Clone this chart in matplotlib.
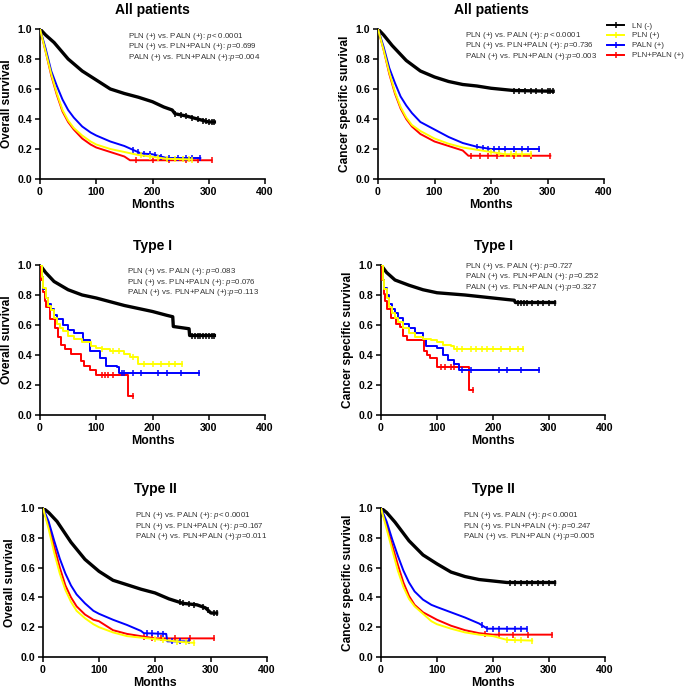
import numpy as np
import matplotlib
matplotlib.use("Agg")
import matplotlib.pyplot as plt
from matplotlib.lines import Line2D

plt.rcParams['font.family'] = ['Liberation Sans', 'DejaVu Sans']
plt.rcParams['mathtext.fontset'] = 'custom'
plt.rcParams['mathtext.it'] = 'Liberation Sans:italic'
plt.rcParams['mathtext.rm'] = 'Liberation Sans'

group_labels = ["LN (-)", "PLN (+)", "PALN (+)", "PLN+PALN (+)"]
group_colors = ["#000000", "#FFFF00", "#0000FF", "#FF0000"]

panel_titles = ["All patients", "All patients", "Type I", "Type I", "Type II", "Type II"]
panel_ylabels = ["Overall survival", "Cancer specific survival"] * 3
x_ticks = [0, 100, 200, 300, 400]
y_ticks = [0.0, 0.2, 0.4, 0.6, 0.8, 1.0]

# ---------------- All patients, overall survival ----------------
os_all_ln_t = [0, 10, 25, 50, 75, 100, 125, 150, 175, 200, 220, 235, 240, 260, 280, 300, 310]
os_all_ln_s = [1.0, 0.96, 0.91, 0.80, 0.72, 0.66, 0.60, 0.57, 0.545, 0.515, 0.48, 0.46, 0.435, 0.42, 0.40, 0.38, 0.38]
os_all_pln_t = [0, 10, 20, 30, 40, 50, 60, 75, 90, 100, 125, 150, 175, 225, 270]
os_all_pln_s = [1.0, 0.85, 0.70, 0.57, 0.46, 0.39, 0.34, 0.29, 0.25, 0.23, 0.20, 0.18, 0.16, 0.135, 0.13]
os_all_paln_t = [0, 10, 20, 30, 40, 50, 60, 75, 90, 100, 125, 150, 180, 200, 225, 285]
os_all_paln_s = [1.0, 0.87, 0.72, 0.62, 0.53, 0.46, 0.41, 0.35, 0.31, 0.29, 0.25, 0.22, 0.17, 0.165, 0.14, 0.14]
os_all_both_t = [0, 10, 20, 30, 40, 50, 60, 75, 90, 100, 125, 150, 160, 305]
os_all_both_s = [1.0, 0.85, 0.69, 0.56, 0.45, 0.38, 0.33, 0.27, 0.23, 0.21, 0.18, 0.15, 0.125, 0.125]
os_all_ln_c = [240, 250, 260, 270, 280, 290, 295, 300, 305, 310]
os_all_pln_c = [180, 195, 210, 225, 240, 255, 265, 270]
os_all_paln_c = [165, 175, 185, 195, 205, 215, 230, 245, 260, 270, 285]
os_all_both_c = [170, 200, 230, 260, 280, 305]

# ---------------- All patients, cancer specific survival ----------------
css_all_ln_t = [0, 10, 25, 50, 75, 100, 125, 150, 175, 200, 240, 310]
css_all_ln_s = [1.0, 0.96, 0.89, 0.79, 0.72, 0.68, 0.65, 0.63, 0.62, 0.605, 0.59, 0.585]
css_all_pln_t = [0, 10, 20, 30, 40, 50, 60, 75, 90, 100, 125, 150, 175, 225, 270]
css_all_pln_s = [1.0, 0.86, 0.71, 0.58, 0.48, 0.41, 0.36, 0.32, 0.29, 0.27, 0.235, 0.21, 0.195, 0.165, 0.165]
css_all_paln_t = [0, 10, 20, 30, 40, 50, 60, 75, 90, 100, 125, 150, 175, 200, 285]
css_all_paln_s = [1.0, 0.88, 0.74, 0.64, 0.55, 0.49, 0.44, 0.38, 0.35, 0.33, 0.28, 0.24, 0.215, 0.20, 0.20]
css_all_both_t = [0, 10, 20, 30, 40, 50, 60, 75, 90, 100, 125, 150, 160, 305]
css_all_both_s = [1.0, 0.86, 0.70, 0.57, 0.47, 0.40, 0.35, 0.30, 0.27, 0.25, 0.22, 0.19, 0.155, 0.155]
css_all_ln_c = [240, 250, 260, 270, 280, 290, 300, 305, 310]
css_all_pln_c = [200, 215, 225, 235, 245, 255, 270]
css_all_paln_c = [175, 185, 195, 205, 215, 225, 240, 255, 265, 285]
css_all_both_c = [165, 180, 195, 210, 240, 270, 305]

# ---------------- Type I, overall survival ----------------
os_t1_ln_t = [0, 10, 25, 50, 75, 100, 125, 150, 175, 200, 225, 236, 237, 265, 266, 310]
os_t1_ln_s = [1.0, 0.95, 0.89, 0.835, 0.80, 0.78, 0.755, 0.73, 0.71, 0.69, 0.665, 0.655, 0.59, 0.575, 0.53, 0.53]
os_t1_pln_t = [0, 3, 6, 10, 15, 20, 25, 30, 35, 40, 50, 60, 75, 90, 100, 110, 125, 150, 160, 175, 253]
os_t1_pln_s = [1.0, 0.92, 0.85, 0.78, 0.73, 0.70, 0.65, 0.61, 0.58, 0.56, 0.53, 0.51, 0.49, 0.46, 0.45, 0.44, 0.43, 0.41, 0.39, 0.34, 0.34]
os_t1_paln_t = [0, 3, 6, 10, 15, 20, 25, 30, 40, 50, 60, 76, 88, 106, 118, 136, 141, 283]
os_t1_paln_s = [1.0, 0.92, 0.84, 0.78, 0.74, 0.71, 0.67, 0.64, 0.60, 0.57, 0.55, 0.50, 0.43, 0.38, 0.33, 0.32, 0.28, 0.28]
os_t1_both_t = [0, 2, 5, 8, 11, 17, 26, 32, 38, 44, 55, 73, 79, 88, 100, 157, 166]
os_t1_both_s = [1.0, 0.90, 0.82, 0.76, 0.72, 0.64, 0.58, 0.52, 0.47, 0.44, 0.41, 0.36, 0.33, 0.30, 0.27, 0.13, 0.13]
os_t1_ln_c = [270, 275, 280, 285, 290, 295, 300, 305, 310]
os_t1_pln_c = [110, 130, 140, 165, 185, 200, 215, 230, 240, 253]
os_t1_paln_c = [145, 150, 165, 180, 210, 225, 250, 283]
os_t1_both_c = [110, 115, 120, 130, 166]

# ---------------- Type I, cancer specific survival ----------------
css_t1_ln_t = [0, 10, 25, 50, 75, 100, 150, 200, 225, 238, 240, 310]
css_t1_ln_s = [1.0, 0.95, 0.90, 0.865, 0.835, 0.815, 0.80, 0.78, 0.77, 0.765, 0.75, 0.75]
css_t1_pln_t = [0, 3, 6, 10, 15, 20, 25, 30, 40, 50, 60, 75, 90, 100, 110, 125, 130, 253]
css_t1_pln_s = [1.0, 0.90, 0.84, 0.78, 0.72, 0.68, 0.65, 0.62, 0.58, 0.55, 0.52, 0.51, 0.50, 0.49, 0.47, 0.46, 0.44, 0.44]
css_t1_paln_t = [0, 3, 6, 10, 15, 20, 25, 30, 40, 50, 60, 75, 80, 100, 110, 120, 130, 140, 283]
css_t1_paln_s = [1.0, 0.90, 0.85, 0.80, 0.74, 0.71, 0.68, 0.65, 0.61, 0.58, 0.55, 0.51, 0.46, 0.45, 0.40, 0.37, 0.34, 0.30, 0.30]
css_t1_both_t = [0, 2, 5, 8, 11, 17, 26, 34, 40, 46, 76, 82, 88, 100, 157, 165]
css_t1_both_s = [1.0, 0.90, 0.81, 0.76, 0.71, 0.645, 0.61, 0.59, 0.53, 0.50, 0.43, 0.40, 0.38, 0.32, 0.17, 0.17]
css_t1_ln_c = [245, 250, 255, 260, 270, 280, 290, 300, 310]
css_t1_pln_c = [135, 145, 160, 170, 180, 190, 200, 215, 230, 245, 253]
css_t1_paln_c = [145, 160, 210, 225, 250, 283]
css_t1_both_c = [108, 115, 125, 130, 165]

# ---------------- Type II, overall survival ----------------
os_t2_ln_t = [0, 10, 25, 50, 75, 100, 125, 150, 175, 200, 225, 250, 275, 290, 300, 310]
os_t2_ln_s = [1.0, 0.97, 0.91, 0.77, 0.655, 0.575, 0.515, 0.485, 0.455, 0.43, 0.39, 0.36, 0.35, 0.33, 0.295, 0.295]
os_t2_pln_t = [0, 10, 20, 30, 40, 50, 60, 75, 90, 100, 125, 150, 175, 200, 225, 250, 270]
os_t2_pln_s = [1.0, 0.86, 0.70, 0.56, 0.45, 0.37, 0.31, 0.26, 0.22, 0.20, 0.165, 0.14, 0.13, 0.12, 0.11, 0.10, 0.095]
os_t2_paln_t = [0, 10, 20, 30, 40, 50, 60, 75, 90, 100, 125, 150, 175, 180, 220, 222, 260]
os_t2_paln_s = [1.0, 0.91, 0.78, 0.66, 0.56, 0.48, 0.42, 0.36, 0.31, 0.29, 0.25, 0.215, 0.175, 0.16, 0.155, 0.105, 0.105]
os_t2_both_t = [0, 10, 20, 30, 40, 50, 60, 75, 90, 100, 125, 150, 175, 200, 305]
os_t2_both_s = [1.0, 0.88, 0.74, 0.60, 0.48, 0.40, 0.34, 0.285, 0.25, 0.24, 0.18, 0.155, 0.14, 0.125, 0.125]
os_t2_ln_c = [245, 250, 260, 270, 285, 295, 305, 310]
os_t2_pln_c = [200, 215, 240, 255, 270]
os_t2_paln_c = [185, 195, 205, 215, 230, 245, 260]
os_t2_both_c = [180, 195, 210, 235, 262, 305]

# ---------------- Type II, cancer specific survival ----------------
css_t2_ln_t = [0, 10, 25, 50, 75, 100, 125, 150, 175, 200, 225, 250, 310]
css_t2_ln_s = [1.0, 0.97, 0.905, 0.78, 0.685, 0.625, 0.57, 0.54, 0.52, 0.51, 0.50, 0.50, 0.50]
css_t2_pln_t = [0, 10, 20, 30, 40, 50, 60, 75, 90, 100, 125, 150, 175, 200, 225, 270]
css_t2_pln_s = [1.0, 0.86, 0.72, 0.58, 0.47, 0.39, 0.34, 0.29, 0.24, 0.22, 0.19, 0.165, 0.15, 0.14, 0.115, 0.11]
css_t2_paln_t = [0, 10, 20, 30, 40, 50, 60, 75, 90, 100, 125, 150, 175, 190, 260]
css_t2_paln_s = [1.0, 0.91, 0.79, 0.68, 0.58, 0.50, 0.44, 0.385, 0.35, 0.335, 0.30, 0.265, 0.225, 0.19, 0.19]
css_t2_both_t = [0, 10, 20, 30, 40, 50, 60, 75, 90, 100, 125, 150, 175, 200, 305]
css_t2_both_s = [1.0, 0.88, 0.75, 0.62, 0.50, 0.41, 0.35, 0.30, 0.27, 0.25, 0.21, 0.18, 0.16, 0.15, 0.15]
css_t2_ln_c = [230, 240, 250, 260, 270, 280, 290, 300, 310]
css_t2_pln_c = [225, 240, 250, 270]
css_t2_paln_c = [180, 190, 200, 210, 225, 240, 250, 260]
css_t2_both_c = [185, 210, 235, 262, 305]

# p-value annotations
ann_os_all = ["PLN (+) vs. PALN (+): $\\it{p}$< 0.0001",
              "PLN (+) vs. PLN+PALN (+): $\\it{p}$=0.699",
              "PALN (+) vs. PLN+PALN (+):$\\it{p}$=0.004"]
ann_css_all = ["PLN (+) vs. PALN (+): $\\it{p< 0.0001}$",
               "PLN (+) vs. PLN+PALN (+): $\\it{p}$=0.736",
               "PALN (+) vs. PLN+PALN (+):$\\it{p}$=0.003"]
ann_os_t1 = ["PLN (+) vs. PALN (+): $\\it{p}$=0.083",
             "PLN (+) vs. PLN+PALN (+): $\\it{p}$=0.076",
             "PALN (+) vs. PLN+PALN (+):$\\it{p}$=0.113"]
ann_css_t1 = ["PLN (+) vs. PALN (+): $\\it{p}$=0.727",
              "PALN (+) vs. PLN+PALN (+): $\\it{p}$=0.252",
              "PALN (+) vs. PLN+PALN (+):$\\it{p}$=0.327"]
ann_os_t2 = ["PLN (+) vs. PALN (+): $\\it{p}$< 0.0001",
             "PLN (+) vs. PLN+PALN (+): $\\it{p}$=0.167",
             "PALN (+) vs. PLN+PALN (+):$\\it{p}$=0.011"]
ann_css_t2 = ["PLN (+) vs. PALN (+): $\\it{p}$< 0.0001",
              "PLN (+) vs. PLN+PALN (+): $\\it{p}$=0.247",
              "PALN (+) vs. PLN+PALN (+):$\\it{p}$=0.005"]

panels = [
    dict(curves=[(os_all_ln_t, os_all_ln_s, os_all_ln_c), (os_all_pln_t, os_all_pln_s, os_all_pln_c),
                 (os_all_paln_t, os_all_paln_s, os_all_paln_c), (os_all_both_t, os_all_both_s, os_all_both_c)],
         ann=ann_os_all, step=False),
    dict(curves=[(css_all_ln_t, css_all_ln_s, css_all_ln_c), (css_all_pln_t, css_all_pln_s, css_all_pln_c),
                 (css_all_paln_t, css_all_paln_s, css_all_paln_c), (css_all_both_t, css_all_both_s, css_all_both_c)],
         ann=ann_css_all, step=False),
    dict(curves=[(os_t1_ln_t, os_t1_ln_s, os_t1_ln_c), (os_t1_pln_t, os_t1_pln_s, os_t1_pln_c),
                 (os_t1_paln_t, os_t1_paln_s, os_t1_paln_c), (os_t1_both_t, os_t1_both_s, os_t1_both_c)],
         ann=ann_os_t1, step=True),
    dict(curves=[(css_t1_ln_t, css_t1_ln_s, css_t1_ln_c), (css_t1_pln_t, css_t1_pln_s, css_t1_pln_c),
                 (css_t1_paln_t, css_t1_paln_s, css_t1_paln_c), (css_t1_both_t, css_t1_both_s, css_t1_both_c)],
         ann=ann_css_t1, step=True),
    dict(curves=[(os_t2_ln_t, os_t2_ln_s, os_t2_ln_c), (os_t2_pln_t, os_t2_pln_s, os_t2_pln_c),
                 (os_t2_paln_t, os_t2_paln_s, os_t2_paln_c), (os_t2_both_t, os_t2_both_s, os_t2_both_c)],
         ann=ann_os_t2, step=False),
    dict(curves=[(css_t2_ln_t, css_t2_ln_s, css_t2_ln_c), (css_t2_pln_t, css_t2_pln_s, css_t2_pln_c),
                 (css_t2_paln_t, css_t2_paln_s, css_t2_paln_c), (css_t2_both_t, css_t2_both_s, css_t2_both_c)],
         ann=ann_css_t2, step=False),
]

# layout (figure fractions)
W, H = 685, 691
ax_rects = [
    (40 / W, 1 - 179 / H, 225 / W, 150 / H),
    (378 / W, 1 - 179 / H, 226 / W, 150 / H),
    (40 / W, 1 - 415 / H, 225 / W, 150 / H),
    (381 / W, 1 - 415 / H, 224 / W, 150 / H),
    (43 / W, 1 - 657 / H, 224 / W, 149 / H),
    (381 / W, 1 - 657 / H, 224 / W, 149 / H),
]
ann_pos = [(0.393, 0.953), (0.387, 0.958), (0.388, 0.955), (0.375, 0.99), (0.41, 0.948), (0.366, 0.948)]

fig = plt.figure(figsize=(W / 100, H / 100), dpi=100)
draw_order = [0, 3, 2, 1]

for i, p in enumerate(panels):
    ax = fig.add_axes(ax_rects[i])
    for g in draw_order:
        t, s, c = p["curves"][g]
        t = np.asarray(t, float)
        s = np.asarray(s, float)
        lw = 2.4 if g == 0 else 1.4
        if p["step"] and g != 0:
            ax.step(t, s, where="post", color=group_colors[g], lw=lw, zorder=2 + (g > 0))
            cy = s[np.searchsorted(t, c, side="right") - 1]
        else:
            ax.plot(t, s, color=group_colors[g], lw=lw, zorder=2 + (g > 0), solid_joinstyle="round")
            cy = np.interp(c, t, s)
        ax.plot(c, cy, linestyle="none", marker="|", markersize=4, mew=1.1,
                color=group_colors[g], zorder=2 + (g > 0))
    ax.set_xlim(0, 400)
    ax.set_ylim(0, 1.0)
    ax.set_xticks(x_ticks)
    ax.set_yticks(y_ticks)
    ax.set_xticklabels([str(v) for v in x_ticks], fontweight="bold", fontsize=7.6)
    ax.set_yticklabels([f"{v:.1f}" for v in y_ticks], fontweight="bold", fontsize=7.6)
    for sp in ["top", "right"]:
        ax.spines[sp].set_visible(False)
    for sp in ["left", "bottom"]:
        ax.spines[sp].set_linewidth(1.2)
    ax.tick_params(width=1.1, length=3.5, pad=2)
    ax.set_xlabel("Months", fontweight="bold", fontsize=8.8, labelpad=2)
    ax.set_ylabel(panel_ylabels[i], fontweight="bold", fontsize=8.6, labelpad=3)
    ax.set_title(panel_titles[i], fontweight="bold", fontsize=10, pad=11)
    ax0x, ax0y = ann_pos[i]
    for k, line in enumerate(p["ann"]):
        ax.text(ax0x, ax0y - 0.07 * k, line, transform=ax.transAxes, fontsize=5.7,
                color="#333333", va="center", ha="left")

handles = [Line2D([], [], color=c, lw=1.4, marker="|", markersize=4, mew=1.1) for c in group_colors]
fig.legend(handles, group_labels, loc="upper left", bbox_to_anchor=(607 / W, 1 - 22 / H),
           frameon=False, fontsize=5.7, handlelength=2.2, handletextpad=1.0,
           labelspacing=0.3, borderaxespad=0, borderpad=0, labelcolor="#333333")

fig.savefig("out.png", dpi=100)
